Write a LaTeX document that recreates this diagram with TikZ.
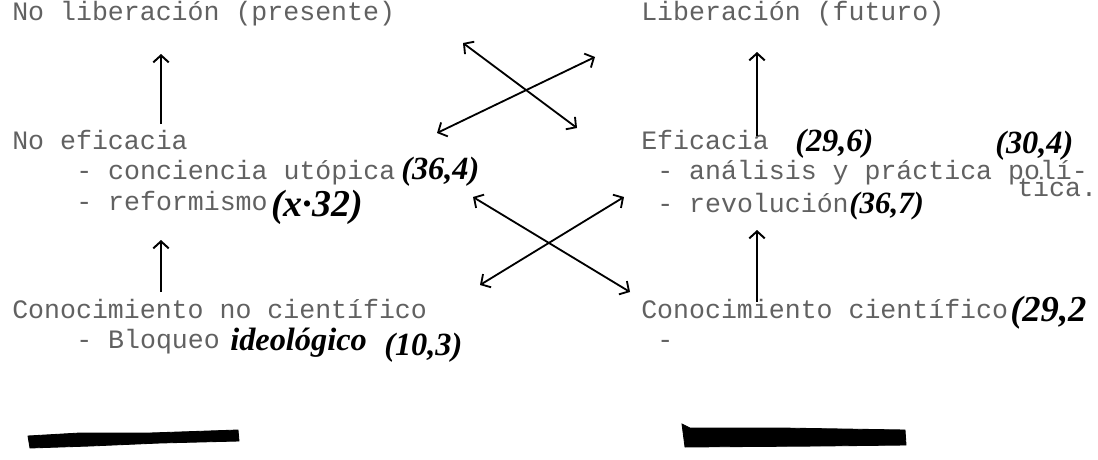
\documentclass[tikz,border=0pt]{standalone}
\usepackage{fontspec}
\setmonofont{Liberation Mono}
\newfontfamily\handfont{Liberation Serif}
\usetikzlibrary{arrows.meta}
\begin{document}
\begin{tikzpicture}[x=0.025cm,y=-0.025cm,
  tw/.style={anchor=base west, inner sep=0pt, font=\ttfamily\fontsize{18.9}{22}\selectfont, text=black!62},
  hw/.style={anchor=base west, inner sep=0pt, font=\handfont\bfseries\itshape\fontsize{#1}{24}\selectfont},
  hw/.default=22,
  varr/.style={line width=1.6pt, -{Straight Barb[length=5pt,width=11pt,line width=1.4pt]}},
  xarr/.style={line width=1.3pt, {Straight Barb[length=5pt,width=11pt,line width=1.3pt]}-{Straight Barb[length=5pt,width=11pt,line width=1.3pt]}},
  redact/.style={fill=black, draw=black, line width=0.6pt}]
\useasboundingbox (0,0) rectangle (1098,460);
\fill[white] (0,0) rectangle (1098,460);

% ---------- left column ----------
\node[tw] (nolib) at (12,21) {No liberación (presente)};
\node[tw] (noef) at (12,149) {No eficacia};
\node[tw] (conc) at (76,179) {- conciencia utópica};
\node[hw=23] (h364) at (401,179) {(36,4)};
\node[tw] (refo) at (76,210) {- reformismo};
\node[hw=27] (hx32) at (271,216) {(x·32)};
\node[tw] (conoc) at (12,318) {Conocimiento no científico};
\node[tw] (bloq) at (76,348) {- Bloqueo};
\node[hw=23] (hideo) at (230,350) {ideológico};
\node[hw=23] (h103) at (384,355) {(10,3)};

% ---------- right column ----------
\node[tw] (lib) at (641,21) {Liberación (futuro)};
\node[tw] (efic) at (641,149) {Eficacia};
\node[hw=23] (h296) at (795,151) {(29,6)};
\node[tw] (anal) at (657,179) {- análisis y práctica polí-};
\node[tw] (tica) at (1017,196) {tica.};
\node[hw=23] (h304) at (995,153) {(30,4)};
\node[tw] (revo) at (657,212) {- revolución};
\node[hw=22] (h367) at (849,213) {(36,7)};
\node[tw] (conoc2) at (641,318) {Conocimiento científico};
\node[hw=26] (h292) at (1010,321) {(29,2};
\node[tw] (dash2) at (657,348) {-};

% ---------- vertical arrows ----------
\coordinate (l1s) at (161,124); \coordinate (l1e) at (161,54);
\coordinate (l2s) at (161,292); \coordinate (l2e) at (161,240);
\coordinate (r1s) at (757,136); \coordinate (r1e) at (757,52);
\coordinate (r2s) at (757,302); \coordinate (r2e) at (757,230);
\draw[varr] (l1s) -- (l1e);
\draw[varr] (l2s) -- (l2e);
\draw[varr] (r1s) -- (r1e);
\draw[varr] (r2s) -- (r2e);

% ---------- crossing arrows ----------
\coordinate (ua1) at (463,43);  \coordinate (ua2) at (577,128);
\coordinate (ub1) at (437,133); \coordinate (ub2) at (595,57);
\coordinate (lc1) at (473,197); \coordinate (lc2) at (630,292);
\coordinate (ld1) at (480,285); \coordinate (ld2) at (624,197);
\draw[xarr] (ua1) -- (ua2);
\draw[xarr] (ub1) -- (ub2);
\draw[xarr] (lc1) -- (lc2);
\draw[xarr] (ld1) -- (ld2);

% ---------- redacted signatures ----------
\filldraw[redact] (28,436) -- (80,433) -- (150,433) -- (238,430) -- (239,441) -- (160,443) -- (90,446) -- (30,448) -- cycle;
\filldraw[redact] (682,424) -- (690,428) -- (780,428) -- (905,430) -- (906,445) -- (820,446) -- (685,447) -- cycle;
\end{tikzpicture}
\end{document}
